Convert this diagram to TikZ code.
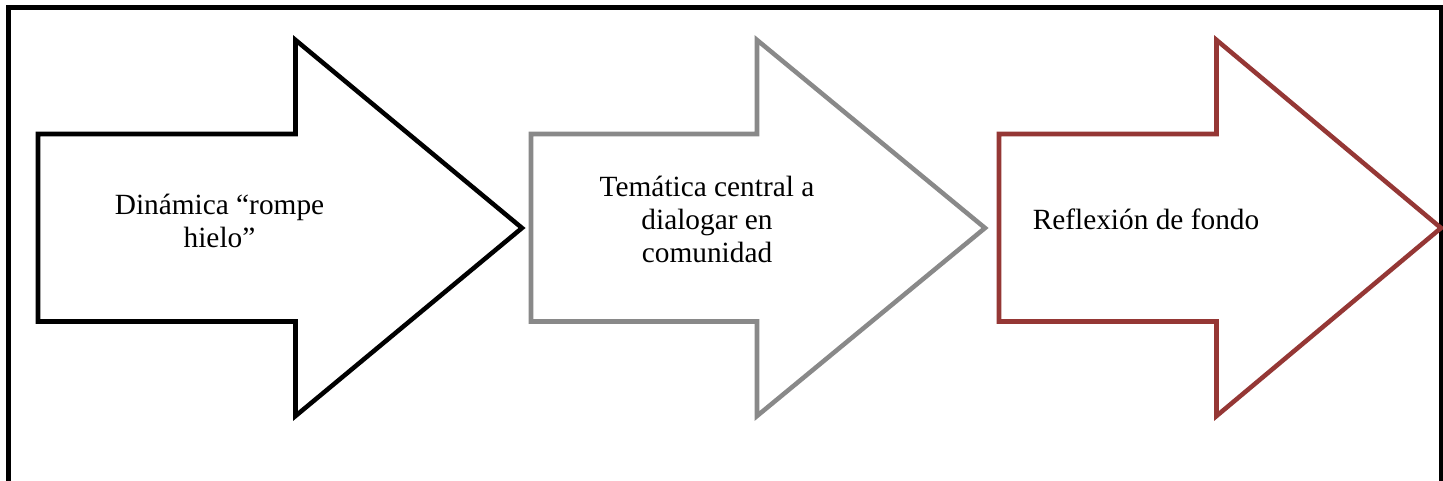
\documentclass[tikz,border=0pt]{standalone}
\usepackage{fontspec}
\setmainfont{Liberation Serif}
\definecolor{arrgray}{HTML}{898989}
\definecolor{arrred}{HTML}{953735}
\tikzset{
  arrowshape/.style={line width=3.4pt, line join=miter, fill=white},
  lbl/.style={align=center, inner sep=0pt, font=\fontsize{22}{25}\selectfont}
}
\begin{document}
\begin{tikzpicture}[x=0.75pt, y=-0.75pt]
\useasboundingbox (0,0) rectangle (1443,481);
\clip (0,0) rectangle (1443,481);
\fill[white] (0,0) rectangle (1443,481);
% outer frame
\draw[line width=3.8pt] (8.5,500) -- (8.5,7.5) -- (1441.5,7.5) -- (1441.5,500);
% arrows
\draw[arrowshape, draw=black] (38,134) -- (295.5,134) -- (295.5,40) -- (522,228) -- (295.5,416) -- (295.5,321.5) -- (38,321.5) -- cycle;
\draw[arrowshape, draw=arrgray] (531,134) -- (757,134) -- (757,40) -- (985,228) -- (757,416) -- (757,321.5) -- (531,321.5) -- cycle;
\draw[arrowshape, draw=arrred] (999,134) -- (1216.5,134) -- (1216.5,40) -- (1441,228) -- (1216.5,416) -- (1216.5,321.5) -- (999,321.5) -- cycle;
% labels
\node[lbl] (t1) at (219.5,221) {Dinámica “rompe\\hielo”};
\node[lbl] (t2) at (707,219.5) {Temática central a\\dialogar en\\comunidad};
\node[lbl, anchor=base] (t3) at (1146,230) {Reflexión de fondo};
\end{tikzpicture}
\end{document}
